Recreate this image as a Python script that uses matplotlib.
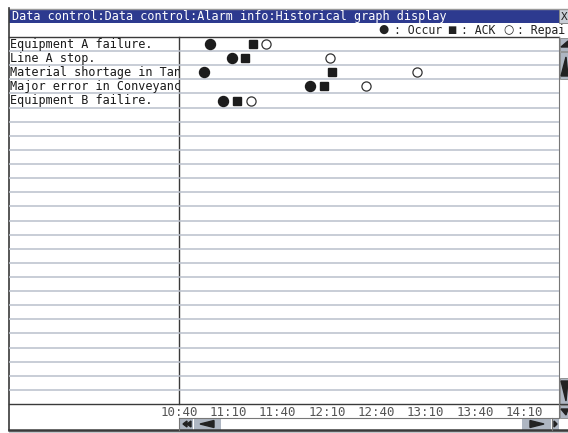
import matplotlib
matplotlib.use("Agg")
import matplotlib.pyplot as plt
from matplotlib.patches import Rectangle, Polygon

# ---------------- data ----------------
alarms = ["Equipment A failure.", "Line A stop.", "Material shortage in Tan",
          "Major error in Conveyanc", "Equipment B failire."]
occur_times = ["10:59", "11:12", "10:55", "12:00", "11:07"]
ack_times = ["11:25", "11:20", "12:13", "12:08", "11:15"]
repair_times = ["11:33", "12:12", "13:05", "12:34", "11:24"]
tick_labels = ["10:40", "11:10", "11:40", "12:10", "12:40", "13:10", "13:40", "14:10"]
title = "Data control:Data control:Alarm info:Historical graph display"
legend_symbols = ["\u25cf", "\u25a0", "\u25cb"]
legend_labels = [": Occur", ": ACK", ": Repai"]
n_rows = 26

def to_min(s, base="10:40"):
    h, m = map(int, s.split(":"))
    bh, bm = map(int, base.split(":"))
    return (h * 60 + m) - (bh * 60 + bm)

W, H = 568, 433
fig = plt.figure(figsize=(W / 100, H / 100), dpi=100)
fig.patch.set_facecolor("white")

MONO = ["DejaVu Sans Mono"]
GRID = "#b9c0cb"
DARK = "#3a3a3a"
BTN = "#aeb6c2"
BLUE = "#2d3a8f"

# background / decoration axes in pixel coordinates
bg = fig.add_axes([0, 0, 1, 1])
bg.set_xlim(0, W)
bg.set_ylim(H, 0)
bg.axis("off")

def px_rect(x0, y0, x1, y1, **kw):
    bg.add_patch(Rectangle((x0, y0), x1 - x0, y1 - y0, **kw))

# frame
px_rect(9, 8, W, 430, facecolor="white", edgecolor="none")
px_rect(9, 430, W, 433, facecolor="#c4c8cc", edgecolor="none")
bg.plot([9, W], [8.5, 8.5], color="#9a9a9a", lw=1)
# title bar
px_rect(9, 9, 559, 23, facecolor=BLUE, edgecolor="none")
bg.text(12, 16.5, title, color="white", fontsize=8.5, family=MONO, va="center", ha="left")
# close button
px_rect(559, 9, W, 23, facecolor="#c9ced6", edgecolor="#777777", lw=0.6)
bg.text(560.5, 16.5, "X", color="#222222", fontsize=8, family=MONO, va="center", ha="left")
# legend row
sym_x = [383, 452, 509]
sym_size = [8.5, 7.0, 8.5]
lab_x = [394, 461, 517]
for sx, lx, fs, sym, lbl in zip(sym_x, lab_x, sym_size, legend_symbols, legend_labels):
    bg.text(sx, 29.5, sym, color="#222222", fontsize=fs,
            family=["DejaVu Sans"], va="center", ha="center")
    bg.text(lx, 30.5, lbl, color="#222222", fontsize=8.3,
            family=MONO, va="center", ha="left")

# geometry of chart area
X0, X1 = 179, 559
Y0, Y1 = 37, 404
px_per_30 = 49.3
xmax = (X1 - X0) / px_per_30 * 30

# label column axes
lab = fig.add_axes([9 / W, (H - Y1) / H, (X0 - 9) / W, (Y1 - Y0) / H])
lab.set_xlim(0, 1)
lab.set_ylim(n_rows, 0)
lab.axis("off")
for i in range(1, n_rows):
    lab.axhline(i, color=GRID, lw=1.1)
for i, name in enumerate(alarms):
    lab.text(0.005, i + 0.5, name, fontsize=8.5, family=MONO, va="center", ha="left",
             color="#1a1a1a", clip_on=True)

# chart axes
ax = fig.add_axes([X0 / W, (H - Y1) / H, (X1 - X0) / W, (Y1 - Y0) / H])
ax.set_xlim(0, xmax)
ax.set_ylim(n_rows, 0)
ax.set_facecolor("none")
for s in ax.spines.values():
    s.set_visible(False)
for i in range(1, n_rows):
    ax.axhline(i, color=GRID, lw=1.1, zorder=1)
ax.set_yticks([])
ax.set_xticks([to_min(t) for t in tick_labels])
ax.set_xticklabels(tick_labels, family=MONO, fontsize=9, color="#555555")
ax.tick_params(axis="x", length=0, pad=1.5)

rows = [i + 0.5 for i in range(len(alarms))]
ax.plot([to_min(t) for t in occur_times], rows, linestyle="none", marker="o",
        markersize=7.2, color="#1c1c1c", zorder=3)
ax.plot([to_min(t) for t in ack_times], rows, linestyle="none", marker="s",
        markersize=5.6, color="#1c1c1c", zorder=3)
ax.plot([to_min(t) for t in repair_times], rows, linestyle="none", marker="o",
        markersize=6.6, markerfacecolor="white", markeredgecolor="#333333",
        markeredgewidth=0.9, zorder=3)

# frame lines
bg.plot([9, 9], [8, 430], color=DARK, lw=1.2)
bg.plot([9, X1], [Y0, Y0], color=DARK, lw=1.0)
bg.plot([X0, X0], [Y0, Y1], color=DARK, lw=1.0)
bg.plot([9, W], [Y1, Y1], color=DARK, lw=1.0)
bg.plot([9, W], [430, 430], color=DARK, lw=1.8)
bg.plot([X0, X1], [418, 418], color="#777777", lw=0.8)
bg.plot([X0, X0], [418, 430], color="#777777", lw=0.8)

# horizontal scroll bar buttons
px_rect(180, 418.5, 193, 429.5, facecolor=BTN, edgecolor="none")
px_rect(194, 418.5, 221, 429.5, facecolor=BTN, edgecolor="none")
px_rect(522, 418.5, 551, 429.5, facecolor=BTN, edgecolor="none")
px_rect(552, 418.5, 559, 429.5, facecolor=BTN, edgecolor="none")
bg.plot([551.5, 551.5], [418, 430], color="#777777", lw=0.8)
bg.add_patch(Polygon([[183, 424], [187, 421], [187, 427]], closed=True, color="#222222"))
bg.add_patch(Polygon([[187, 424], [191, 421], [191, 427]], closed=True, color="#222222"))
bg.add_patch(Polygon([[200, 424], [214, 420.5], [214, 427.5]], closed=True, color="#222222"))
bg.add_patch(Polygon([[544, 424], [530, 420.5], [530, 427.5]], closed=True, color="#222222"))
bg.add_patch(Polygon([[554, 421], [557, 424], [554, 427]], closed=True, color="#222222"))

# vertical scroll bar
bg.plot([X1, X1], [Y0, 418], color="#777777", lw=0.8)
px_rect(559.5, 37.5, W, 51, facecolor=BTN, edgecolor="#777777", lw=0.5)
px_rect(559.5, 51.5, W, 79, facecolor=BTN, edgecolor="#777777", lw=0.5)
px_rect(559.5, 378, W, 404, facecolor=BTN, edgecolor="#777777", lw=0.5)
px_rect(559.5, 404.5, W, 418, facecolor=BTN, edgecolor="#777777", lw=0.5)
bg.add_patch(Polygon([[561, 47], [568, 41], [568, 47]], closed=True, color="#222222"))
bg.add_patch(Polygon([[561, 76], [566, 57], [568, 76]], closed=True, color="#222222"))
bg.add_patch(Polygon([[561, 381], [568, 381], [566, 401]], closed=True, color="#222222"))
bg.add_patch(Polygon([[561, 409], [568, 409], [566, 415]], closed=True, color="#222222"))

fig.savefig("out.png", dpi=100, facecolor="white")
